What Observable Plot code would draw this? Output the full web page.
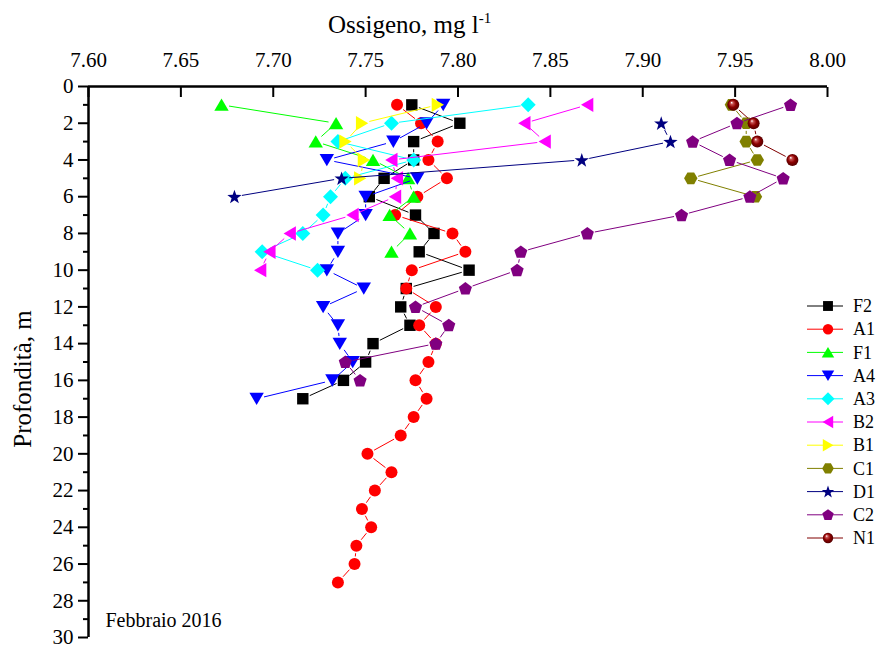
<!DOCTYPE html>
<html><head><meta charset="utf-8">
<script src="https://cdn.jsdelivr.net/npm/d3@7"></script>
<script src="https://cdn.jsdelivr.net/npm/@observablehq/plot@0.6"></script>
<style>
body{margin:0;background:#fff;}
#chart{position:relative;width:879px;height:646px;}
</style></head><body><div id="chart"></div>
<script>
// ---- data ----
const depths = [1,2,3,4,5,6,7,8,9,10,11,12,13,14,15,16,17,18,19,20,21,22,23,24,25,26,27];
const F2 = [7.775, 7.801, 7.776, 7.776, 7.760, 7.752, 7.777, 7.787, 7.779, 7.806, 7.772, 7.769, 7.774, 7.754, 7.750, 7.738, 7.716];
const A1 = [7.767, 7.780, 7.789, 7.784, 7.794, 7.778, 7.766, 7.797, 7.804, 7.775, 7.772, 7.788, 7.779, 7.788, 7.784, 7.777, 7.783, 7.776, 7.769, 7.751, 7.764, 7.755, 7.748, 7.753, 7.745, 7.744, 7.735];
const F1 = [7.672, 7.734, 7.723, 7.754, 7.773, 7.776, 7.763, 7.774, 7.764];
const A4 = [7.792, 7.783, 7.765, 7.729, 7.778, 7.750, 7.750, 7.735, 7.735, 7.729, 7.749, 7.727, 7.735, 7.736, 7.743, 7.732, 7.691];
const A3 = [7.838, 7.764, 7.735, 7.776, 7.739, 7.731, 7.727, 7.716, 7.694, 7.724];
const B2 = [7.870, 7.836, 7.847, 7.764, 7.767, 7.766, 7.743, 7.709, 7.698, 7.693];
const B1 = [7.789, 7.748, 7.739, 7.749, 7.747];
const C1 = [7.948, 7.956, 7.956, 7.962, 7.926, 7.961];
const D1 = [7.910, 7.915, 7.867, 7.737, 7.679];
const C2 = [7.980, 7.951, 7.927, 7.947, 7.976, 7.958, 7.921, 7.870, 7.834, 7.832, 7.804, 7.777, 7.795, 7.788, 7.739, 7.747];
const N1 = [7.949, 7.960, 7.962, 7.981];

const seriesNames = ["F2","A1","F1","A4","A3","B2","B1","C1","D1","C2","N1"];
const seriesValues = [F2, A1, F1, A4, A3, B2, B1, C1, D1, C2, N1];
const seriesStartDepth = [1,1,1,1,1,1,1,1,2,1,1];

const xTicks = [7.60, 7.65, 7.70, 7.75, 7.80, 7.85, 7.90, 7.95, 8.00];
const yTicks = [0,2,4,6,8,10,12,14,16,18,20,22,24,26,28,30];
const yMinorTicks = [1,3,5,7,9,11,13,15,17,19,21,23,25,27,29];

// ---- styles ----
const seriesColors = ["#000000","#ff0000","#00ff00","#0000ff","#00ffff","#ff00ff","#ffff00","#808000","#000080","#800080","#800000"];
const seriesFills  = ["#000000","#ff0000","#00ff00","#0000ff","#00ffff","#ff00ff","#ffff00","#808000","#000080","#800080","url(#sphereGrad)"];

function poly(pts){
  return {draw(ctx, size){
    const R = Math.sqrt(size/Math.PI);
    ctx.moveTo(pts[0][0]*R, pts[0][1]*R);
    for (let i=1;i<pts.length;i++) ctx.lineTo(pts[i][0]*R, pts[i][1]*R);
    ctx.closePath();
  }};
}
const symSquare = poly([[-0.95,-0.95],[0.95,-0.95],[0.95,0.95],[-0.95,0.95]]);
const symCircle = {draw(ctx,size){const R=Math.sqrt(size/Math.PI)*1.0; ctx.moveTo(R,0); ctx.arc(0,0,R,0,2*Math.PI);}};
const symTriUp = poly([[0,-1.05],[1.2,1.0],[-1.2,1.0]]);
const symTriDown = poly([[0,1.05],[1.2,-1.0],[-1.2,-1.0]]);
const symTriLeft = poly([[-1.05,0],[1.0,-1.2],[1.0,1.2]]);
const symTriRight = poly([[1.05,0],[-1.0,-1.2],[-1.0,1.2]]);
const symDiamond = poly([[0,-1.25],[1.25,0],[0,1.25],[-1.25,0]]);
const symHexagon = poly([0,1,2,3,4,5].map(k=>[1.12*Math.cos(k*Math.PI/3), 1.12*Math.sin(k*Math.PI/3)]));
const symPentagon = poly([0,1,2,3,4].map(k=>[1.15*Math.cos(-Math.PI/2+k*2*Math.PI/5), 1.15*Math.sin(-Math.PI/2+k*2*Math.PI/5)+0.08]));
const symStar = poly([0,1,2,3,4,5,6,7,8,9].map(k=>{const r = k%2? 0.5:1.25; const a=-Math.PI/2+k*Math.PI/5; return [r*Math.cos(a), r*Math.sin(a)+0.1];}));
const seriesSymbols = [symSquare, symCircle, symTriUp, symTriDown, symDiamond, symTriLeft, symTriRight, symHexagon, symStar, symPentagon, symCircle];

// ---- build tables ----
const tables = seriesNames.map((name, s) => {
  const vals = seriesValues[s];
  const dep = depths.slice(seriesStartDepth[s]-1, seriesStartDepth[s]-1+vals.length);
  const points = vals.map((v,i)=>({series:name, o2:v, depth:dep[i]}));
  const segs = points.slice(1).map((p,i)=>({x1:points[i].o2, y1:points[i].depth, x2:p.o2, y2:p.depth}));
  return {points, segs};
});

const seriesMarks = tables.flatMap((t, s) => [
  Plot.arrow(t.segs, {x1:"x1", y1:"y1", x2:"x2", y2:"y2", stroke: seriesColors[s], strokeWidth: 1, headLength: 0, bend: 0, insetStart: 8, insetEnd: 8}),
  Plot.dot(t.points, {x:"o2", y:"depth", symbol: seriesSymbols[s], r: 6, fill: seriesFills[s], stroke: "none"})
]);

const serif = "'Liberation Serif', 'Times New Roman', serif";

const svgEl = Plot.plot({
  width: 879, height: 646,
  marginTop: 86, marginLeft: 88, marginRight: 52, marginBottom: 9,
  style: {fontFamily: serif, fontSize: "21px", color: "#000", background: "#fff", overflow: "visible"},
  x: {domain: [7.6, 8.0]},
  y: {domain: [0, 30], reverse: true},
  marks: [
    ...seriesMarks,
    Plot.ruleY([0], {strokeWidth: 2.5}),
    Plot.ruleX([7.6], {strokeWidth: 2.5}),
    Plot.axisX(xTicks, {anchor: "top", tickSize: -10, tickPadding: 30, strokeWidth: 2, tickFormat: d3.format(".2f"), label: null, fontSize: 21}),
    Plot.axisY(yTicks, {anchor: "left", tickSize: 10, tickPadding: 5, strokeWidth: 2, label: null, fontSize: 21}),
    Plot.axisY(yMinorTicks, {anchor: "left", tickSize: 5, strokeWidth: 2, tickFormat: () => "", label: null}),
    Plot.text(["Febbraio 2016"], {frameAnchor: "bottom-left", dx: 17, dy: -11, textAnchor: "start", fontSize: 20})
  ]
});
document.getElementById("chart").appendChild(svgEl);

// ---- post-processing: gradient, titles, legend ----
const svg = d3.select(svgEl);
const defs = svg.append("defs");
const grad = defs.append("radialGradient").attr("id","sphereGrad")
  .attr("cx","50%").attr("cy","50%").attr("r","55%").attr("fx","35%").attr("fy","30%");
grad.append("stop").attr("offset","0%").attr("stop-color","#ffffff");
grad.append("stop").attr("offset","22%").attr("stop-color","#c85050");
grad.append("stop").attr("offset","55%").attr("stop-color","#8b0000");
grad.append("stop").attr("offset","100%").attr("stop-color","#4a0000");

const xt = svg.append("text").attr("x", 328).attr("y", 33).attr("text-anchor","start")
  .attr("font-size", 25).attr("font-family", serif).attr("fill","#000");
xt.append("tspan").text("Ossigeno, mg l");
xt.append("tspan").attr("dy", -10).attr("font-size", 15).text("-1");

svg.append("text").attr("transform", "translate(31,379) rotate(-90)").attr("text-anchor","middle")
  .attr("font-size", 25).attr("font-family", serif).attr("fill","#000").text("Profondità, m");

const leg = svg.append("g");
seriesNames.forEach((name, s) => {
  const y = 306 + s*23.2;
  const g = leg.append("g");
  g.append("line").attr("x1", 807).attr("x2", 843).attr("y1", y).attr("y2", y).attr("stroke", seriesColors[s]).attr("stroke-width", 1);
  g.append("path").attr("transform", `translate(828,${y})`).attr("d", d3.symbol(seriesSymbols[s], 5.2*5.2*Math.PI)()).attr("fill", seriesFills[s]);
  g.append("text").attr("x", 853).attr("y", y).attr("dy","0.34em").attr("text-anchor","start")
    .attr("font-size", 18).attr("font-family", serif).attr("fill","#000").text(name);
});
</script>
</body></html>
